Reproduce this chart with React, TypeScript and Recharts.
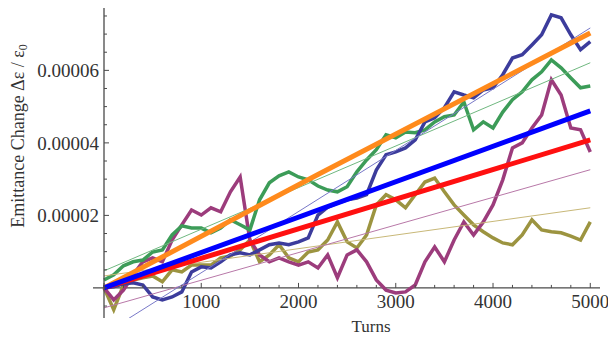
import React from 'react';
import { LineChart, Line, XAxis, YAxis, ReferenceLine } from 'recharts';

// ---- data (values in units of 1e-6) ----
const turns = [
  0, 100, 200, 300, 400, 500, 600, 700, 800, 900,
  1000, 1100, 1200, 1300, 1400, 1500, 1600, 1700, 1800, 1900,
  2000, 2100, 2200, 2300, 2400, 2500, 2600, 2700, 2800, 2900,
  3000, 3100, 3200, 3300, 3400, 3500, 3600, 3700, 3800, 3900,
  4000, 4100, 4200, 4300, 4400, 4500, 4600, 4700, 4800, 4900, 5000,
];

const blueWalk = [
  0, 0.3, 1.1, 1.4, 0.8, -2.5, -3.3, -2.5, -1.1, 4.4,
  5.8, 5.5, 7.2, 9.1, 9.7, 9.1, 10.5, 11.9, 12.4, 11.9,
  12.7, 13.8, 20.1, 22.3, 23.4, 24.3, 24.8, 25.7, 32.5, 36.7,
  37.5, 38.6, 40.8, 45.8, 46.9, 49.7, 54.1, 53.2, 52.4, 54.6,
  55.2, 58.8, 63.4, 64.3, 67.0, 69.8, 75.3, 74.5, 69.8, 65.7, 67.9,
];

const greenWalk = [
  2.2, 3.6, 6.1, 7.2, 7.7, 9.9, 10.5, 14.6, 17.1, 16.5,
  16.5, 15.2, 16.5, 18.8, 17.4, 16.0, 24.3, 29.0, 30.9, 32.0,
  30.6, 29.8, 28.1, 27.0, 26.5, 27.9, 32.0, 35.3, 38.1, 42.2,
  41.4, 43.0, 42.8, 43.6, 45.8, 47.2, 47.7, 51.3, 43.6, 45.8,
  44.1, 48.5, 51.9, 54.1, 57.4, 59.6, 62.9, 60.7, 57.9, 55.2, 55.7,
];

const magentaWalk = [
  0, -3.3, -0.6, 3.6, 7.2, 8.3, 7.2, 13.2, 17.4, 21.5,
  20.1, 22.1, 21.0, 26.5, 30.6, 13.2, 9.1, 7.2, 8.3, 7.2,
  6.3, 7.2, 5.5, 9.1, 2.8, 9.1, 10.5, 7.2, 2.2, -0.6,
  -1.4, -1.1, 0.8, 7.2, 11.3, 7.2, 13.2, 18.2, 14.6, 18.2,
  22.9, 29.8, 38.6, 40.0, 44.1, 47.7, 57.4, 53.2, 44.1, 43.6, 37.5,
];

const oliveWalk = [
  0, -6.0, 0.8, 2.2, 2.8, 3.3, 1.7, 5.0, 4.4, 6.3,
  6.3, 6.3, 8.3, 8.8, 10.5, 13.2, 7.2, 9.1, 11.9, 8.3,
  7.2, 9.9, 10.5, 13.2, 18.2, 12.7, 11.0, 14.6, 22.9, 25.7,
  24.3, 22.1, 25.7, 29.2, 30.3, 26.5, 22.9, 20.1, 17.4, 15.5,
  13.8, 12.4, 11.9, 14.6, 18.8, 16.0, 15.5, 15.2, 14.3, 13.2, 18.2,
];

// linear fits (thin lines)
const fitTurns = [0, 5000];
const blueFit = [-12.7, 71.7];
const greenFit = [4.7, 62.1];
const magentaFit = [-5.5, 32.6];
const oliveFit = [3.3, 22.1];

// thick trend lines
const orangeTurns = [0, 2200, 5000];
const orangeTrend = [0, 31.3, 70.3];
const blueTrend = [0, 48.8];
const redTrend = [0, 40.8];

// ticks
const xTicks = [
  0, 200, 400, 600, 800, 1000, 1200, 1400, 1600, 1800, 2000, 2200, 2400, 2600,
  2800, 3000, 3200, 3400, 3600, 3800, 4000, 4200, 4400, 4600, 4800, 5000,
];
const xTickLabels = ['1000', '2000', '3000', '4000', '5000'];
const yTicks = [
  -0.000005, 0, 0.000005, 0.00001, 0.000015, 0.00002, 0.000025, 0.00003,
  0.000035, 0.00004, 0.000045, 0.00005, 0.000055, 0.00006, 0.000065,
  0.00007, 0.000075,
];
const yMajor = [0.00002, 0.00004, 0.00006];
const yTickLabels = ['0.00002', '0.00004', '0.00006'];

// ---- layout ----
const W = 608;
const H = 340;
const PLOT_LEFT = 104;
const PLOT_TOP = 8;
const PLOT_BOTTOM = 318;
const PLOT_RIGHT = 600;
const Y_MIN = -0.0000083;
const Y_MAX = 0.0000772;
const ZERO_Y = PLOT_TOP + (Y_MAX / (Y_MAX - Y_MIN)) * (PLOT_BOTTOM - PLOT_TOP);
const AXIS_COLOR = '#4a4a4a';
const TEXT_COLOR = '#333';
const FONT = '"Liberation Serif", "Times New Roman", serif';

const SCALE = 1e-6;
const mainData = turns.map((t, i) => ({
  t,
  blue: blueWalk[i] * SCALE,
  green: greenWalk[i] * SCALE,
  magenta: magentaWalk[i] * SCALE,
  olive: oliveWalk[i] * SCALE,
}));
const pairs = (ts: number[], vs: number[]) => ts.map((t, i) => ({ t, v: vs[i] * SCALE }));

const XTick = (props: any) => {
  const { x, payload } = props;
  const v = payload.value as number;
  const major = v % 1000 === 0;
  const label = xTickLabels.find((l) => Number(l) === v);
  return (
    <g>
      <path d={`M${x},${ZERO_Y}L${x},${ZERO_Y - (major ? 5 : 3)}`} stroke={AXIS_COLOR} strokeWidth={1} fill="none" />
      {label && (
        <text x={x} y={ZERO_Y + 7} dy="0.71em" textAnchor="middle" fontSize={19} fontFamily={FONT} fill={TEXT_COLOR} stroke="none">
          {label}
        </text>
      )}
    </g>
  );
};

const YTick = (props: any) => {
  const { y, payload } = props;
  const v = payload.value as number;
  const idx = yMajor.findIndex((m) => Math.abs(m - v) < 1e-10);
  const major = idx >= 0;
  return (
    <g>
      <path d={`M${PLOT_LEFT},${y}L${PLOT_LEFT + (major ? 5 : 3)},${y}`} stroke={AXIS_COLOR} strokeWidth={1} fill="none" />
      {major && (
        <text x={PLOT_LEFT - 5} y={y} dy="0.35em" textAnchor="end" fontSize={19} fontFamily={FONT} fill={TEXT_COLOR} stroke="none">
          {yTickLabels[idx]}
        </text>
      )}
    </g>
  );
};

export default function App() {
  return (
    <div style={{ position: 'absolute', left: 0, top: 0, width: W, height: H, background: '#fff' }}>
      <LineChart
        width={W}
        height={H}
        data={mainData}
        margin={{ top: PLOT_TOP, right: W - PLOT_RIGHT, bottom: 0, left: 0 }}
      >
        <XAxis
          dataKey="t"
          type="number"
          domain={[0, 5100]}
          ticks={xTicks}
          interval={0}
          axisLine={false}
          tickLine={false}
          tick={<XTick />}
          height={H - PLOT_BOTTOM}
        />
        <YAxis
          type="number"
          domain={[Y_MIN, Y_MAX]}
          allowDataOverflow
          ticks={yTicks}
          interval={0}
          width={PLOT_LEFT}
          tickLine={false}
          axisLine={{ stroke: AXIS_COLOR, strokeWidth: 1.3 }}
          tick={<YTick />}
        />
        <ReferenceLine
          segment={[{ x: -113, y: 0 }, { x: 5100, y: 0 }]}
          ifOverflow="visible"
          stroke={AXIS_COLOR}
          strokeWidth={1.3}
        />
        <Line dataKey="olive" stroke="#9c9440" strokeWidth={3.5} dot={false} isAnimationActive={false} />
        <Line dataKey="magenta" stroke="#9c3c7c" strokeWidth={3.5} dot={false} isAnimationActive={false} />
        <Line dataKey="green" stroke="#3c9c58" strokeWidth={3.5} dot={false} isAnimationActive={false} />
        <Line dataKey="blue" stroke="#3c3c9c" strokeWidth={3.5} dot={false} isAnimationActive={false} />

        <Line data={pairs(fitTurns, oliveFit)} dataKey="v" stroke="#c8b878" strokeWidth={1} dot={false} isAnimationActive={false} />
        <Line data={pairs(fitTurns, magentaFit)} dataKey="v" stroke="#b878a8" strokeWidth={1} dot={false} isAnimationActive={false} />
        <Line data={pairs(fitTurns, greenFit)} dataKey="v" stroke="#70b880" strokeWidth={1} dot={false} isAnimationActive={false} />
        <Line data={pairs(fitTurns, blueFit)} dataKey="v" stroke="#7878c8" strokeWidth={1} dot={false} isAnimationActive={false} />

        <Line data={pairs(fitTurns, redTrend)} dataKey="v" stroke="#ff1010" strokeWidth={5} dot={false} isAnimationActive={false} />
        <Line data={pairs(orangeTurns, orangeTrend)} dataKey="v" stroke="#ff8a1c" strokeWidth={5} dot={false} isAnimationActive={false} />
        <Line data={pairs(fitTurns, blueTrend)} dataKey="v" stroke="#0000ff" strokeWidth={5} dot={false} isAnimationActive={false} />
      </LineChart>
      <svg width={W} height={H} style={{ position: 'absolute', left: 0, top: 0, pointerEvents: 'none' }}>
        <text
          transform="translate(24,136) rotate(-90)"
          textAnchor="middle"
          fontSize={18}
          fontFamily={FONT}
          fill={TEXT_COLOR}
        >
          Emittance Change Δε / ε<tspan fontSize={12} dy={3}>0</tspan>
        </text>
        <text x={371} y={332} textAnchor="middle" fontSize={17} fontFamily={FONT} fill={TEXT_COLOR}>
          Turns
        </text>
      </svg>
    </div>
  );
}
